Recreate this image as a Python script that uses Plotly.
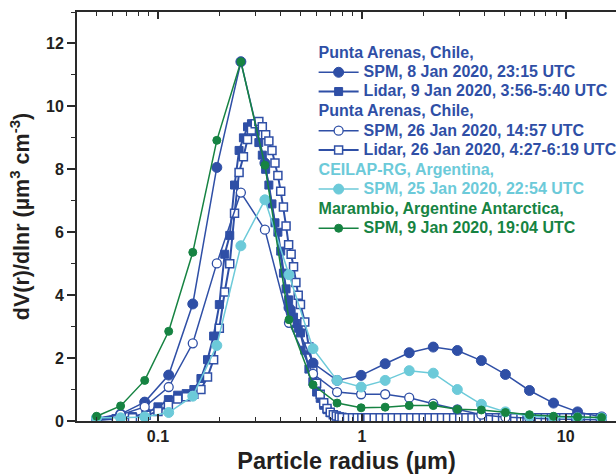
import plotly.graph_objects as go

# ---------------- data ----------------
# AERONET/SPM radius bins (µm)
r_spm = [0.05, 0.0656, 0.0861, 0.1129, 0.1482, 0.1944, 0.2551, 0.3347, 0.4392,
         0.5762, 0.7561, 0.9920, 1.3016, 1.7078, 2.2407, 2.9400, 3.8575, 5.0613,
         6.6407, 8.7131, 11.4323, 15.0]

spm_pa_8jan = [0.08, 0.22, 0.60, 1.46, 3.72, 8.06, 11.42, 8.20, 3.60, 1.84, 1.29,
               1.45, 1.82, 2.17, 2.35, 2.24, 1.92, 1.48, 0.97, 0.57, 0.29, 0.13]
spm_pa_26jan = [0.07, 0.20, 0.45, 1.08, 2.47, 5.01, 7.26, 6.08, 3.12, 1.50, 0.92,
                0.85, 0.85, 0.74, 0.55, 0.37, 0.20, 0.12, 0.08, 0.06, 0.05, 0.04]
spm_ceilap = [0.10, 0.10, 0.13, 0.27, 0.79, 2.40, 5.57, 7.03, 4.65, 2.30, 1.29,
              1.08, 1.29, 1.60, 1.52, 1.00, 0.53, 0.29, 0.15, 0.11, 0.10, 0.10]
spm_marambio = [0.15, 0.48, 1.29, 2.85, 5.36, 8.92, 11.42, 8.13, 3.22, 1.15, 0.57,
                0.42, 0.44, 0.49, 0.49, 0.37, 0.35, 0.27, 0.20, 0.15, 0.13, 0.11]

# Lidar retrieval radii (µm)
r_lidar = [0.05, 0.0625, 0.075, 0.0875, 0.1, 0.1125, 0.125, 0.1375, 0.15, 0.1625,
           0.175, 0.1875, 0.2, 0.2125, 0.225, 0.2375, 0.25, 0.2625, 0.275, 0.2875,
           0.3, 0.3125, 0.325, 0.3375, 0.35, 0.3625, 0.375, 0.3875, 0.4, 0.4125,
           0.425, 0.4375, 0.45, 0.4625, 0.475, 0.4875, 0.5, 0.525, 0.55, 0.575,
           0.6, 0.625, 0.65, 0.675, 0.7, 0.725, 0.75, 0.775, 0.8, 0.85,
           0.9, 0.95, 1.0, 1.07, 1.15, 1.23, 1.32, 1.41, 1.51, 1.62,
           1.74, 1.86, 2.0, 2.14, 2.29, 2.46, 2.63, 2.82, 3.02, 3.24,
           3.47, 3.72, 3.98, 4.27, 4.57, 4.9, 5.25, 5.62, 6.03, 6.46,
           6.92, 7.41, 7.94, 8.51, 9.12, 9.77, 10.5, 11.2, 12.0, 12.9,
           13.8, 14.8]

lidar_9jan = [0.05, 0.08, 0.14, 0.25, 0.45, 0.68, 0.82, 0.87, 1.00, 1.35,
              1.95, 2.70, 3.70, 5.30, 5.90, 7.50, 8.60, 9.00, 9.35, 9.45,
              9.20, 8.85, 8.45, 8.00, 7.50, 6.90, 6.30, 6.00, 5.40, 4.70,
              4.20, 3.85, 3.50, 3.30, 3.10, 2.95, 2.80, 2.25, 1.65, 1.25,
              0.92, 0.72, 0.50, 0.36, 0.26, 0.20, 0.16, 0.13, 0.12, 0.11,
              0.10, 0.10, 0.10, 0.10, 0.10, 0.10, 0.10, 0.10, 0.10, 0.10,
              0.10, 0.10, 0.10, 0.10, 0.10, 0.10, 0.10, 0.10, 0.10, 0.10,
              0.10, 0.10, 0.10, 0.10, 0.10, 0.10, 0.10, 0.10, 0.10, 0.10,
              0.10, 0.10, 0.10, 0.10, 0.10, 0.10, 0.10, 0.10, 0.10, 0.10,
              0.10, 0.10]
lidar_26jan = [0.03, 0.06, 0.10, 0.18, 0.30, 0.50, 0.70, 0.77, 0.85, 1.00,
               1.40, 1.95, 2.95, 4.10, 5.00, 6.60, 7.90, 8.40, 8.95, 9.25,
               9.45, 9.52, 9.35, 9.10, 8.90, 8.60, 8.20, 7.80, 7.30, 6.80,
               6.20, 5.60, 5.30, 4.90, 4.40, 4.00, 3.70, 3.15, 2.35, 1.70,
               1.20, 0.85, 0.58, 0.40, 0.28, 0.20, 0.16, 0.13, 0.11, 0.10,
               0.10, 0.10, 0.10, 0.10, 0.10, 0.10, 0.10, 0.10, 0.10, 0.10,
               0.10, 0.10, 0.10, 0.10, 0.10, 0.10, 0.10, 0.10, 0.10, 0.10,
               0.10, 0.10, 0.10, 0.10, 0.10, 0.10, 0.10, 0.10, 0.10, 0.10,
               0.10, 0.10, 0.10, 0.10, 0.10, 0.10, 0.10, 0.10, 0.10, 0.10,
               0.10, 0.10]

y_ticks = [0, 2, 4, 6, 8, 10, 12]
x_ticks = [0.1, 1, 10]
x_tick_labels = ["0.1", "1", "10"]

# ---------------- styles ----------------
BLUE = "#2F4FA6"
CYAN = "#6CCAD9"
GREEN = "#168342"
FONT = "Arial, Liberation Sans, sans-serif"
LEG_PX = 16


def name(txt, color):
    return f"<span style='color:{color};font-size:{LEG_PX}px'>{txt}</span>"


def gtitle(txt, color):
    return dict(text=name(txt, color), font=dict(color=color, size=13, family=FONT, weight="bold"))


fig = go.Figure()

# lidar (drawn first, beneath)
fig.add_trace(go.Scatter(
    x=r_lidar, y=lidar_9jan, mode="lines+markers",
    line=dict(color=BLUE, width=2),
    marker=dict(symbol="square", size=8, color=BLUE, line=dict(color=BLUE, width=1)),
    name=name("Lidar, 9 Jan 2020, 3:56-5:40 UTC", BLUE),
    legendgroup="g1", legendrank=2,
))
fig.add_trace(go.Scatter(
    x=r_lidar, y=lidar_26jan, mode="lines+markers",
    line=dict(color=BLUE, width=2),
    marker=dict(symbol="square", size=8, color="white", line=dict(color=BLUE, width=1.5)),
    name=name("Lidar, 26 Jan 2020, 4:27-6:19 UTC", BLUE),
    legendgroup="g2", legendrank=4,
))

# SPM
fig.add_trace(go.Scatter(
    x=r_spm, y=spm_pa_8jan, mode="lines+markers",
    line=dict(color=BLUE, width=1.5),
    marker=dict(symbol="circle", size=10, color=BLUE, line=dict(color=BLUE, width=1)),
    name=name("SPM, 8 Jan 2020, 23:15 UTC", BLUE),
    legendgroup="g1", legendrank=1,
    legendgrouptitle=gtitle("Punta Arenas, Chile,", BLUE),
))
fig.add_trace(go.Scatter(
    x=r_spm, y=spm_pa_26jan, mode="lines+markers",
    line=dict(color=BLUE, width=1.5),
    marker=dict(symbol="circle", size=9, color="white", line=dict(color=BLUE, width=1.3)),
    name=name("SPM, 26 Jan 2020, 14:57 UTC", BLUE),
    legendgroup="g2", legendrank=3,
    legendgrouptitle=gtitle("Punta Arenas, Chile,", BLUE),
))
fig.add_trace(go.Scatter(
    x=r_spm, y=spm_ceilap, mode="lines+markers",
    line=dict(color=CYAN, width=1.5),
    marker=dict(symbol="circle", size=10, color=CYAN, line=dict(color=CYAN, width=1)),
    name=name("SPM, 25 Jan 2020, 22:54 UTC", CYAN),
    legendgroup="g3", legendrank=5,
    legendgrouptitle=gtitle("CEILAP-RG, Argentina,", CYAN),
))
fig.add_trace(go.Scatter(
    x=r_spm, y=spm_marambio, mode="lines+markers",
    line=dict(color=GREEN, width=1.5),
    marker=dict(symbol="circle", size=8, color=GREEN, line=dict(color=GREEN, width=1)),
    name=name("SPM, 9 Jan 2020, 19:04 UTC", GREEN),
    legendgroup="g4", legendrank=6,
    legendgrouptitle=gtitle("Marambio, Argentine Antarctica,", GREEN),
))

axis_col = "#2a2a2a"
fig.update_layout(
    width=616, height=474,
    margin=dict(l=77, r=0, t=12, b=53, autoexpand=False),
    paper_bgcolor="white", plot_bgcolor="white",
    font=dict(family=FONT, color="#231F20", weight="bold"),
    showlegend=True,
    legend=dict(
        x=0.439, y=0.937, xanchor="left", yanchor="top",
        bgcolor="rgba(0,0,0,0)", borderwidth=0,
        tracegroupgap=0, itemwidth=40,
        font=dict(size=12.5, family=FONT, weight="bold"),
        traceorder="grouped",
    ),
    xaxis=dict(
        type="log", range=[-1.397, 1.2466],
        tickvals=x_ticks, ticktext=x_tick_labels,
        ticks="inside", ticklen=7, tickwidth=1.5, tickcolor=axis_col,
        minor=dict(ticks="inside", ticklen=4, tickwidth=1.2, tickcolor=axis_col, dtick="D1", showgrid=False),
        showline=True, linecolor=axis_col, linewidth=2, mirror="ticks",
        showgrid=False, zeroline=False, automargin=False,
        tickfont=dict(size=16, family=FONT, weight="bold"),
        title=dict(text="Particle radius (µm)", font=dict(size=23.5, family=FONT, weight="bold"), standoff=8),
    ),
    yaxis=dict(
        range=[0, 13],
        tickvals=y_ticks,
        ticks="outside", ticklen=8, tickwidth=1.5, tickcolor=axis_col,
        minor=dict(ticks="outside", ticklen=4, tickwidth=1.2, tickcolor=axis_col, dtick=1, showgrid=False),
        showline=True, linecolor=axis_col, linewidth=2,
        showgrid=False, zeroline=False, automargin=False,
        tickfont=dict(size=16, family=FONT, weight="bold"),
        title=dict(text="dV(r)/dlnr (µm<sup>3</sup> cm<sup>-3</sup>)", font=dict(size=21.5, family=FONT, weight="bold"), standoff=10),
    ),
)

fig.write_html("out.html")
